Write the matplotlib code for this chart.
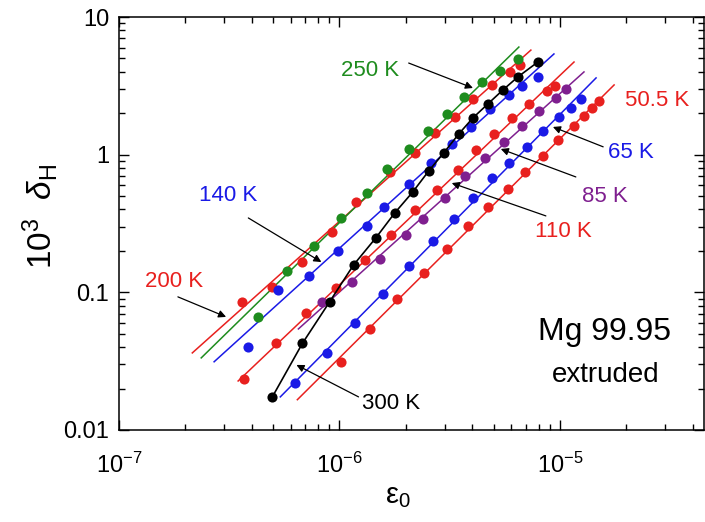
import matplotlib
matplotlib.use("Agg")
import matplotlib.pyplot as plt
from matplotlib.ticker import LogLocator, FixedLocator, FixedFormatter, NullFormatter
import numpy as np

plt.rcParams['font.family'] = ['Liberation Sans', 'DejaVu Sans']
plt.rcParams['mathtext.fontset'] = 'custom'
plt.rcParams['mathtext.rm'] = 'Liberation Sans'
plt.rcParams['mathtext.it'] = 'Liberation Sans:italic'
plt.rcParams['mathtext.bf'] = 'Liberation Sans:bold'

RED = '#E8201E'
GREEN = '#1E8C1E'
BLUE = '#1A1AE6'
PURPLE = '#7F1F8F'
BLACK = '#000000'

# ---- data: strain amplitude eps0 and 10^3 delta_H ----
x_250 = [4.28e-7, 5.80e-7, 7.70e-7, 1.02e-6, 1.33e-6, 1.65e-6, 2.06e-6, 2.51e-6, 3.06e-6, 3.66e-6, 4.42e-6, 5.33e-6, 6.44e-6]
y_250 = [0.0658, 0.142, 0.217, 0.347, 0.527, 0.787, 1.10, 1.49, 1.98, 2.62, 3.37, 4.05, 4.95]
fit_250_x = [2.36e-7, 6.51e-6]
fit_250_y = [0.0334, 6.05]

x_200 = [3.62e-7, 4.96e-7, 6.79e-7, 9.20e-7, 1.19e-6, 1.69e-6, 2.19e-6, 2.70e-6, 3.33e-6, 4.03e-6, 4.91e-6, 5.93e-6, 6.58e-6]
y_200 = [0.0851, 0.109, 0.166, 0.275, 0.454, 0.749, 1.03, 1.44, 1.88, 2.54, 3.21, 3.99, 4.50]
fit_200_x = [2.15e-7, 7.38e-6]
fit_200_y = [0.0363, 5.75]

x_140 = [3.86e-7, 5.28e-7, 7.31e-7, 9.89e-7, 1.33e-6, 1.585e-6, 2.06e-6, 2.59e-6, 3.23e-6, 3.94e-6, 4.81e-6, 5.86e-6, 6.72e-6, 7.94e-6]
y_140 = [0.0401, 0.104, 0.132, 0.198, 0.303, 0.417, 0.612, 0.863, 1.20, 1.59, 2.15, 2.71, 3.16, 3.67]
fit_140_x = [2.70e-7, 9.39e-6]
fit_140_y = [0.0313, 5.39]

x_300 = [4.96e-7, 6.79e-7, 9.01e-7, 1.158e-6, 1.46e-6, 1.78e-6, 2.15e-6, 2.54e-6, 2.97e-6, 3.47e-6, 4.03e-6, 4.70e-6, 5.51e-6, 6.44e-6, 7.94e-6]
y_300 = [0.0174, 0.0426, 0.0851, 0.158, 0.248, 0.377, 0.536, 0.762, 1.03, 1.41, 1.85, 2.33, 2.95, 3.67, 4.71]

x_110 = [3.70e-7, 5.17e-7, 7.08e-7, 9.69e-7, 1.30e-6, 1.71e-6, 2.19e-6, 2.76e-6, 3.44e-6, 4.15e-6, 5.01e-6, 6.05e-6, 7.23e-6, 8.73e-6, 9.49e-6]
y_110 = [0.0235, 0.0426, 0.0708, 0.108, 0.172, 0.263, 0.397, 0.554, 0.774, 1.08, 1.41, 1.85, 2.33, 2.90, 3.16]
fit_110_x = [3.47e-7, 1.158e-5]
fit_110_y = [0.0227, 4.71]

x_85 = [8.37e-7, 1.135e-6, 1.52e-6, 2.0e-6, 2.38e-6, 3.0e-6, 3.70e-6, 4.56e-6, 5.56e-6, 6.72e-6, 8.03e-6, 9.59e-6, 1.065e-5]
y_85 = [0.0851, 0.119, 0.176, 0.263, 0.341, 0.485, 0.700, 0.946, 1.24, 1.62, 2.08, 2.58, 3.00]
fit_85_x = [6.51e-7, 1.285e-5]
fit_85_y = [0.0542, 3.99]

x_65 = [6.31e-7, 8.82e-7, 1.18e-6, 1.57e-6, 2.06e-6, 2.65e-6, 3.30e-6, 4.03e-6, 4.91e-6, 5.86e-6, 7.08e-6, 8.37e-6, 9.89e-6, 1.122e-5, 1.245e-5]
y_65 = [0.022, 0.036, 0.060, 0.098, 0.156, 0.236, 0.341, 0.485, 0.678, 0.871, 1.14, 1.49, 1.88, 2.18, 2.54]
fit_65_x = [5.39e-7, 1.458e-5]
fit_65_y = [0.0174, 3.61]

x_50 = [1.02e-6, 1.37e-6, 1.82e-6, 2.41e-6, 3.06e-6, 3.82e-6, 4.73e-6, 5.81e-6, 6.93e-6, 8.37e-6, 9.79e-6, 1.158e-5, 1.285e-5, 1.397e-5, 1.50e-5]
y_50 = [0.0313, 0.0542, 0.0896, 0.138, 0.207, 0.303, 0.417, 0.564, 0.749, 0.979, 1.28, 1.62, 1.91, 2.18, 2.45]
fit_50_x = [6.44e-7, 1.76e-5]
fit_50_y = [0.0166, 3.21]

x_major = [1e-7, 1e-6, 1e-5]
y_major = [0.01, 0.1, 1, 10]
y_major_labels = ['0.01', '0.1', '1', '10']

fig = plt.figure(figsize=(7.05, 5.22), dpi=100)
ax = fig.add_axes([119/705, 1-430/522, 585/705, 413/522])
ax.set_xscale('log')
ax.set_yscale('log')

series = [
    (fit_200_x, fit_200_y, x_200, y_200, RED),
    (fit_250_x, fit_250_y, x_250, y_250, GREEN),
    (fit_140_x, fit_140_y, x_140, y_140, BLUE),
    (fit_110_x, fit_110_y, x_110, y_110, RED),
    (fit_85_x, fit_85_y, x_85, y_85, PURPLE),
    (fit_65_x, fit_65_y, x_65, y_65, BLUE),
    (fit_50_x, fit_50_y, x_50, y_50, RED),
]
for fx, fy, px, py, c in series:
    ax.plot(fx, fy, '-', color=c, lw=1.1, zorder=2)
for fx, fy, px, py, c in series:
    ax.plot(px, py, 'o', color=c, ms=7.3, mec='none', zorder=3)
ax.plot(x_300, y_300, '-o', color=BLACK, lw=1.2, ms=7.3, mec='none', zorder=4)

ax.set_xlim(1e-7, 4.5e-5)
ax.set_ylim(0.01, 10)

ax.xaxis.set_major_locator(FixedLocator(x_major))
ax.xaxis.set_minor_locator(LogLocator(base=10, subs=np.arange(2, 10)))
ax.xaxis.set_minor_formatter(NullFormatter())
ax.yaxis.set_major_locator(FixedLocator(y_major))
ax.yaxis.set_major_formatter(FixedFormatter(y_major_labels))
ax.yaxis.set_minor_locator(LogLocator(base=10, subs=np.arange(2, 10)))
ax.yaxis.set_minor_formatter(NullFormatter())

ax.tick_params(which='both', direction='in', top=True, right=True, width=1.0)
ax.tick_params(which='major', length=7, labelsize=17)
ax.tick_params(which='minor', length=4.5)
ax.tick_params(axis='x', which='major', pad=16)
ax.tick_params(axis='y', which='major', pad=7)
for s in ax.spines.values():
    s.set_linewidth(1.1)

ax.set_xlabel('ε$_0$', fontsize=21)
ax.xaxis.set_label_coords(0.477, -0.16)
ax.xaxis.label.set_va('center')

# y-axis title placed explicitly (axes coordinates)
ax.text(-0.135, 0.518, r'10$^3$  $\delta_{\rm H}$', transform=ax.transAxes,
        fontsize=24, rotation=90, ha='center', va='center')

arrow = dict(arrowstyle='-|>', color='black', lw=0.9, mutation_scale=11, shrinkA=0, shrinkB=0)
lab = 16
ax.annotate('', xy=(4.03e-6, 3.05), xytext=(2.06e-6, 4.63), arrowprops=arrow)
ax.text(1.38e-6, 4.12, '250 K', color=GREEN, fontsize=lab, ha='center', va='center')
ax.annotate('', xy=(8.28e-7, 0.166), xytext=(3.86e-7, 0.347), arrowprops=arrow)
ax.text(3.13e-7, 0.509, '140 K', color=BLUE, fontsize=lab, ha='center', va='center')
ax.annotate('', xy=(3.06e-7, 0.0663), xytext=(1.85e-7, 0.0927), arrowprops=arrow)
ax.text(1.78e-7, 0.119, '200 K', color=RED, fontsize=lab, ha='center', va='center')
ax.annotate('', xy=(6.38e-7, 0.0297), xytext=(1.22e-6, 0.0174), arrowprops=arrow)
ax.text(1.71e-6, 0.0157, '300 K', color=BLACK, fontsize=lab, ha='center', va='center')
ax.annotate('', xy=(3.23e-6, 0.622), xytext=(8.63e-6, 0.359), arrowprops=arrow)
ax.text(1.04e-5, 0.275, '110 K', color=RED, fontsize=lab, ha='center', va='center')
ax.annotate('', xy=(5.39e-6, 1.10), xytext=(1.18e-5, 0.689), arrowprops=arrow)
ax.text(1.60e-5, 0.493, '85 K', color=PURPLE, fontsize=lab, ha='center', va='center')
ax.annotate('', xy=(9.29e-6, 1.59), xytext=(1.57e-5, 1.14), arrowprops=arrow)
ax.text(2.10e-5, 1.03, '65 K', color=BLUE, fontsize=lab, ha='center', va='center')
ax.text(2.76e-5, 2.49, '50.5 K', color=RED, fontsize=lab, ha='center', va='center')

ax.text(1.60e-5, 0.0516, 'Mg 99.95', color='black', fontsize=23, ha='center', va='center')
ax.text(1.62e-5, 0.0251, 'extruded', color='black', fontsize=20, ha='center', va='center')

fig.savefig('out.png', dpi=100)
